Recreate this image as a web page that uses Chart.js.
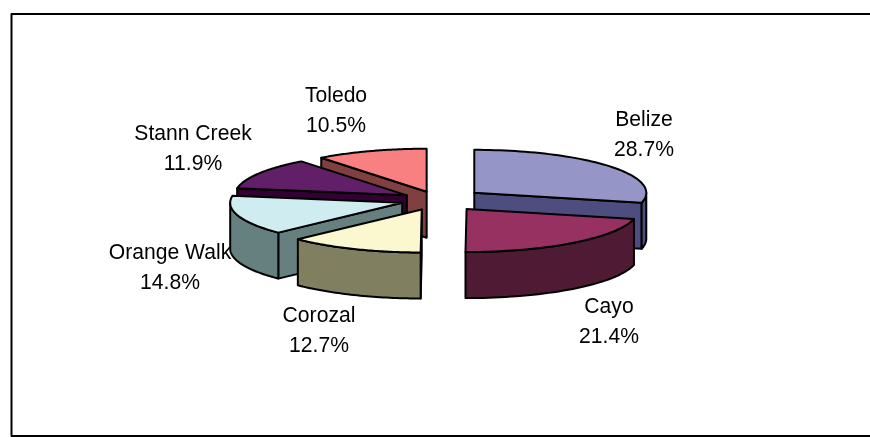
<!DOCTYPE html>
<html><head><meta charset="utf-8">
<style>html,body{margin:0;padding:0;background:#fff}#w{position:relative;width:870px;height:437px}</style>
<script src="https://cdn.jsdelivr.net/npm/chart.js@4"></script></head>
<body><div id="w"><canvas id="c" width="870" height="437"></canvas></div>
<script>
const categories = ['Belize','Cayo','Corozal','Orange Walk','Stann Creek','Toledo'];
const shares = [28.7,21.4,12.7,14.8,11.9,10.5];
const topColors = ['#9595C8','#963162','#FBF7CE','#CFECF0','#601F66','#F88080'];
const wallColors = ['#4D4D80','#4F1A33','#808060','#668080','#330033','#804040'];
const explode = [185,185,165,150,145,140];
const labelAnchors = [[644,120],[609,307],[319,316],[170,253],[193,134],[336,96]];
const paintOrder = [5,4,3,2,0,1];
const CX=438, CY=200, RADIUS=172, SQUASH=0.25, DEPTH=46, FONT='22px "Liberation Sans", Arial, sans-serif';

function geo(a){
  const half=(a.startAngle+a.endAngle)/2, off=(a.options.offset||0)/4;
  const ax=a.x+Math.cos(half)*off, ay=a.y+Math.sin(half)*off;
  const P=(t,r,d=0)=>[ax+r*Math.cos(t), a.y+(ay+r*Math.sin(t)-a.y)*SQUASH+d];
  return {P,apex:P(0,0),s:a.startAngle,e:a.endAngle,R:a.outerRadius};
}
function poly(ctx,pts,fill){
  ctx.beginPath();pts.forEach((p,i)=>i?ctx.lineTo(p[0],p[1]):ctx.moveTo(p[0],p[1]));ctx.closePath();
  ctx.fillStyle=fill;ctx.fill();ctx.stroke();
}
function fittedText(ctx,text,x,y){
  ctx.save();ctx.translate(x,y);ctx.scale(0.96,1);ctx.fillText(text,0,0);ctx.restore();
}
const pie3d={id:'pie3d',
  beforeDatasetsDraw(chart){
    const ctx=chart.ctx, arcs=chart.getDatasetMeta(0).data;
    ctx.save();ctx.lineWidth=2;ctx.strokeStyle='#000';ctx.lineJoin='round';
    ctx.beginPath();ctx.moveTo(chart.width,14);ctx.lineTo(11.5,14);ctx.lineTo(11.5,436);ctx.lineTo(chart.width,436);ctx.stroke();
    for(const i of paintOrder){
      const a=arcs[i], g=geo(a), wall=wallColors[i];
      for(const t of [g.s,g.e]){
        const facing=(t===g.s)?Math.cos(t)<0:Math.cos(t)>0;
        if(facing){const p=g.P(t,g.R),q=g.P(t,g.R,DEPTH),r=g.P(t,0,DEPTH);poly(ctx,[g.apex,p,q,r],wall);}
      }
      const lo=Math.max(g.s,0), hi=Math.min(g.e,Math.PI);
      if(hi>lo){
        const pts=[];const n=40;
        for(let k=0;k<=n;k++)pts.push(g.P(lo+(hi-lo)*k/n,g.R));
        for(let k=n;k>=0;k--)pts.push(g.P(lo+(hi-lo)*k/n,g.R,DEPTH));
        poly(ctx,pts,wall);
      }
      const top=[g.apex];const n=60;
      for(let k=0;k<=n;k++)top.push(g.P(g.s+(g.e-g.s)*k/n,g.R));
      poly(ctx,top,a.options.backgroundColor);
    }
    ctx.fillStyle='#000';ctx.font=FONT;ctx.textAlign='center';ctx.textBaseline='middle';
    categories.forEach((name,i)=>{
      const [x,y]=labelAnchors[i];
      fittedText(ctx,name,x,y);fittedText(ctx,shares[i].toFixed(1)+'%',x,y+29.5);
    });
    ctx.restore();
    return false;
  }
};
new Chart(document.getElementById('c'),{
  type:'pie',
  data:{labels:categories,datasets:[{data:shares,backgroundColor:topColors,borderWidth:0,offset:explode,hoverOffset:0}]},
  options:{responsive:false,animation:false,radius:RADIUS,
    layout:{padding:{left:CX-200,right:870-CX-200,top:0,bottom:37}},
    plugins:{legend:{display:false},tooltip:{enabled:false},title:{display:false}}},
  plugins:[pie3d]
});
</script></body></html>
